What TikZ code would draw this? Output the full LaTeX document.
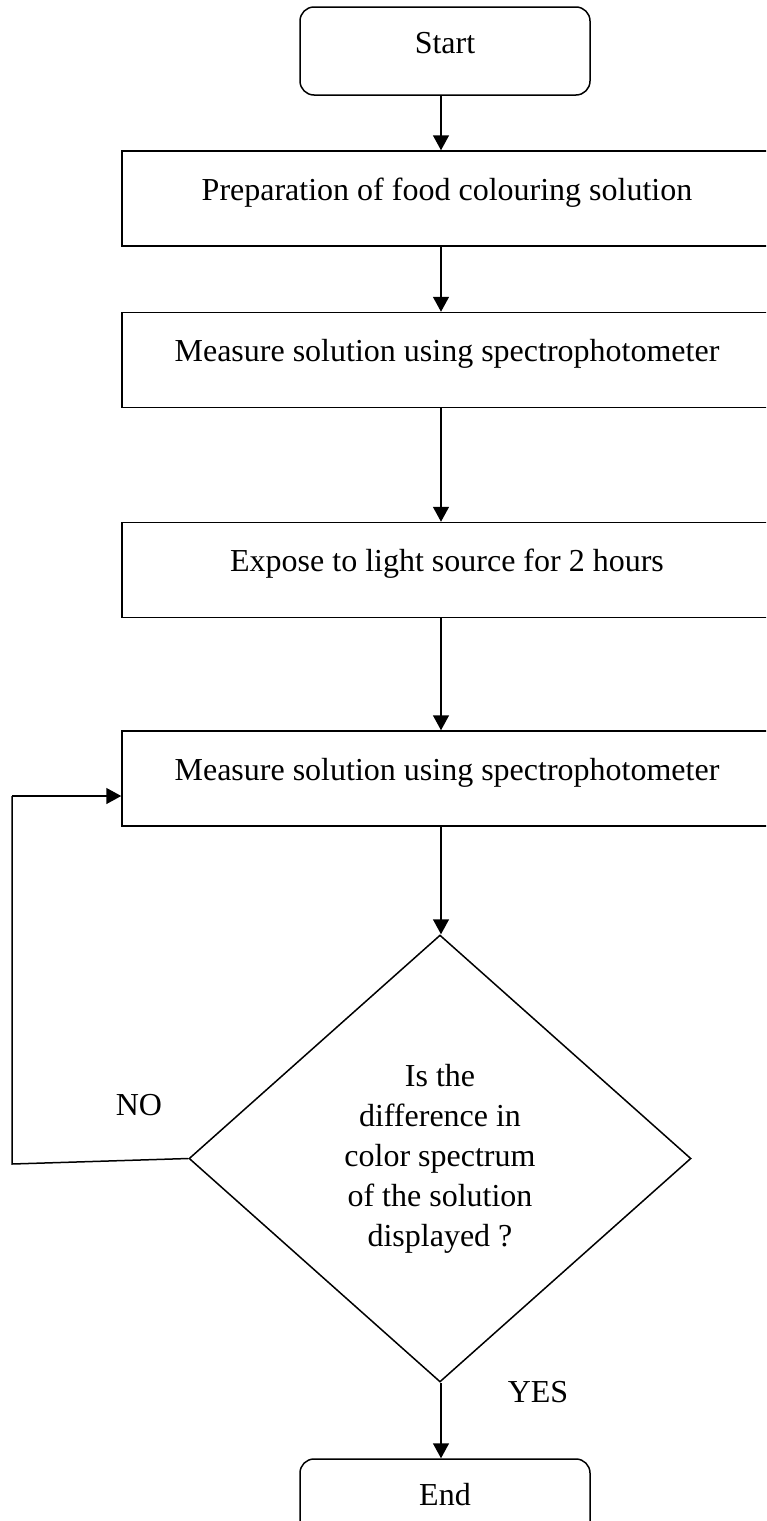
\documentclass[tikz,border=0pt]{standalone}
\usepackage{fontspec}
\setmainfont{Liberation Serif}
\usetikzlibrary{shapes.geometric,arrows.meta}
\begin{document}
\begin{tikzpicture}[x=0.5pt,y=-0.5pt,
  every node/.style={font=\fontsize{16}{20}\selectfont},
  procbox/.style={draw,line width=0.75pt,rectangle,minimum width=325pt,minimum height=47.5pt,inner sep=0pt,text height=11pt,text depth=9.5pt},
  termbox/.style={draw,line width=0.75pt,rectangle,rounded corners=7pt,minimum width=145pt,minimum height=44pt,inner sep=0pt,text height=11.5pt,text depth=9pt},
  decbox/.style={draw,line width=0.75pt,diamond,minimum width=251pt,minimum height=223.5pt,inner sep=0pt,align=center},
  flow/.style={line width=0.75pt,-{Triangle[length=7.5pt,width=8pt]}},
  plain/.style={line width=0.75pt},
  lbl/.style={inner sep=0pt}]
\useasboundingbox (0,0) rectangle (766,1521);
\clip (0,0) rectangle (766,1521);
\node[termbox] (start) at (445,51) {Start};
\node[procbox] (p1) at (447,198.5) {Preparation of food colouring solution};
\node[procbox] (p2) at (447,360) {Measure solution using spectrophotometer};
\node[procbox] (p3) at (447,570) {Expose to light source for 2 hours};
\node[procbox] (p4) at (447,778.5) {Measure solution using spectrophotometer};
\node[decbox] (dec) at (440,1158.5) {Is the\\difference in\\color spectrum\\of the solution\\displayed ?};
\node[termbox] (end) at (445,1503) {End};
\node[lbl] (no) at (139,1105) {NO};
\node[lbl] (yes) at (538,1392) {YES};
\coordinate (ax) at (441,0);
\coordinate (loopB) at (12,1164);
\coordinate (loopT) at (12,796);
\draw[flow] (start.south -| ax) -- (p1.north -| ax);
\draw[flow] (p1.south -| ax) -- (p2.north -| ax);
\draw[flow] (p2.south -| ax) -- (p3.north -| ax);
\draw[flow] (p3.south -| ax) -- (p4.north -| ax);
\draw[flow] (p4.south -| ax) -- (dec.north -| ax);
\draw[flow] (dec.south -| ax) -- (end.north -| ax);
\draw[plain] (dec.west) -- (loopB) -- (loopT);
\draw[flow] (loopT) -- (p4.west |- loopT);
\end{tikzpicture}
\end{document}
